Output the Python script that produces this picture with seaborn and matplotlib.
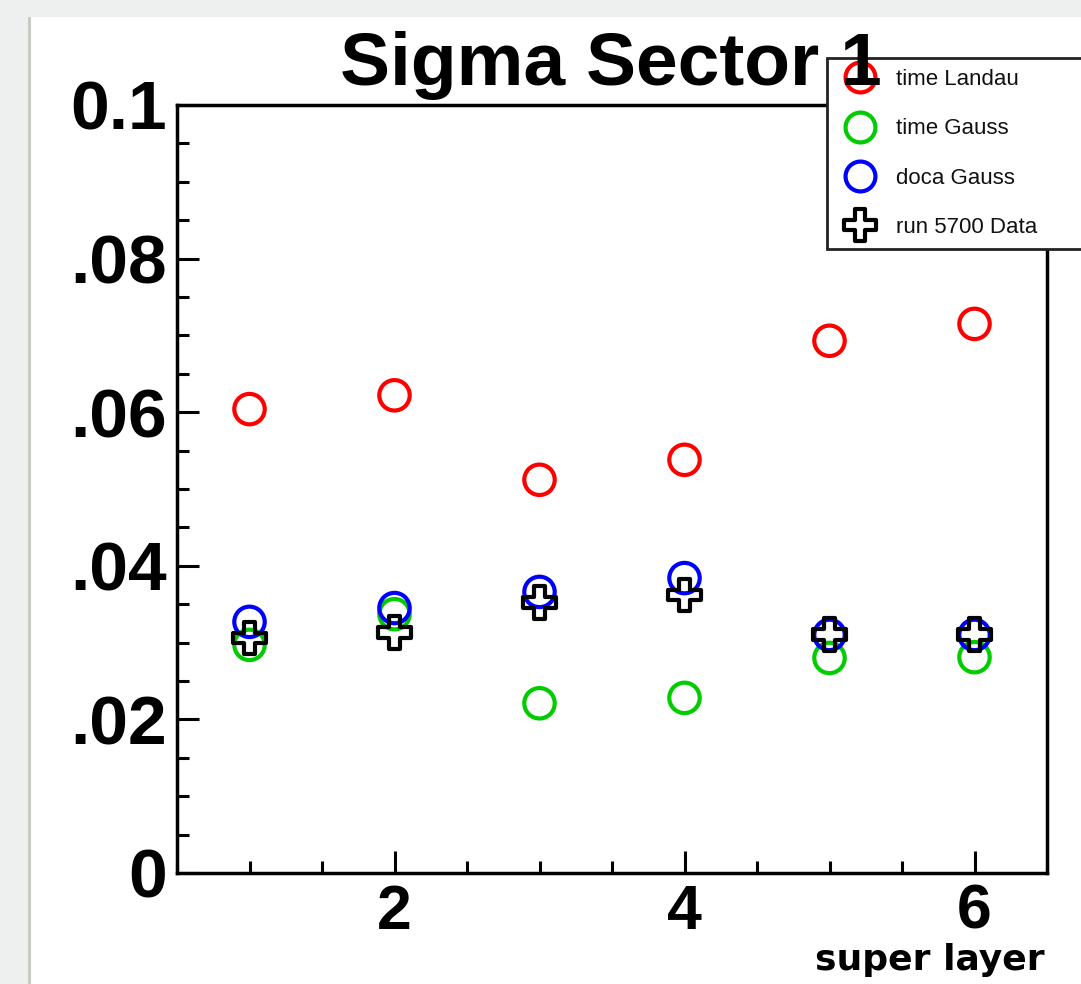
import matplotlib
matplotlib.use("Agg")
import matplotlib.pyplot as plt
import seaborn as sns
from matplotlib.path import Path
from matplotlib.lines import Line2D
from matplotlib.ticker import MultipleLocator, FixedLocator

# ---- data ----
super_layer = [1, 2, 3, 4, 5, 6]
time_landau = [0.0604, 0.0622, 0.0512, 0.0538, 0.0693, 0.0715]
time_gauss = [0.0297, 0.0337, 0.0221, 0.0228, 0.0280, 0.0281]
doca_gauss = [0.0327, 0.0345, 0.0366, 0.0384, 0.0310, 0.0310]
run_data = [0.0306, 0.0313, 0.0352, 0.0362, 0.0310, 0.0310]
series_names = ["time Landau", "time Gauss", "doca Gauss", "run 5700 Data"]
y_ticks = [0, 0.02, 0.04, 0.06, 0.08, 0.1]
y_tick_labels = ["0", ".02", ".04", ".06", ".08", "0.1"]
x_ticks = [2, 4, 6]
x_tick_labels = ["2", "4", "6"]

sns.set_theme(style="white")
plt.rcParams['font.family'] = ['Liberation Sans', 'DejaVu Sans']

W, H = 1081, 984
fig = plt.figure(figsize=(W / 100, H / 100), dpi=100)
fig.patch.set_facecolor('#eef0ef')
fig.add_artist(plt.Rectangle((31 / W, 0), 1, 1 - 17 / H, transform=fig.transFigure,
                             facecolor='white', edgecolor='none', zorder=-2))
fig.add_artist(plt.Rectangle((28 / W, 0), 3 / W, 1 - 17 / H, transform=fig.transFigure,
                             facecolor='#c9c9c6', edgecolor='none', zorder=-1))

ax = fig.add_axes([177 / W, (H - 873) / H, (1047 - 177) / W, (873 - 105) / H])
ax.set_facecolor('white')

a = 0.33
cross = Path([(-a, 1), (a, 1), (a, a), (1, a), (1, -a), (a, -a), (a, -1), (-a, -1),
              (-a, -a), (-1, -a), (-1, a), (-a, a), (-a, 1)], closed=True)

colors = ['#ff0000', '#00cc00', '#0000ff', '#000000']
values = [time_landau, time_gauss, doca_gauss, run_data]
markers = ['o', 'o', 'o', cross]
sizes = [480, 480, 480, 560]
for vals, col, mk, sz in zip(values, colors, markers, sizes):
    sns.scatterplot(x=super_layer, y=vals, marker=mk, s=sz, facecolors='none',
                    edgecolor=col, linewidth=3.0, ax=ax, zorder=3, legend=False)

ax.set_xlim(0.5, 6.5)
ax.set_ylim(0, 0.1)
ax.xaxis.set_major_locator(FixedLocator(x_ticks))
ax.set_xticklabels(x_tick_labels)
ax.xaxis.set_minor_locator(MultipleLocator(0.5))
ax.yaxis.set_major_locator(FixedLocator(y_ticks))
ax.set_yticklabels(y_tick_labels)
ax.yaxis.set_minor_locator(MultipleLocator(0.005))
ax.tick_params(which='both', direction='in', width=2.2, color='black',
               left=True, bottom=True, top=False, right=False)
ax.tick_params(which='major', length=16)
ax.tick_params(which='minor', length=8.5)
ax.tick_params(axis='y', which='major', pad=7, labelsize=50)
ax.tick_params(axis='x', which='major', pad=7, labelsize=45)
for lab in ax.get_xticklabels() + ax.get_yticklabels():
    lab.set_fontweight('bold')
    lab.set_color('black')
for sp in ax.spines.values():
    sp.set_color('black')
    sp.set_linewidth(2.5)
    sp.set_visible(True)

ax.set_xlabel("super layer", fontsize=26, fontweight='bold', family='DejaVu Sans', color='black')
ax.xaxis.label.set_ha('right')
ax.xaxis.label.set_va('baseline')
ax.xaxis.set_label_coords(1 - 2 / 870, -(970 - 873) / 768)
ax.set_ylabel("")

handles = []
for col, mk in zip(colors, markers):
    handles.append(Line2D([], [], ls='none', marker=mk, ms=21.5 if mk == 'o' else 23,
                          mfc='none', mec=col, mew=3.0))
leg = fig.legend(handles, series_names, loc='upper left',
                 bbox_to_anchor=(827 / W, 1 - 248 / H, 300 / W, (248 - 58) / H),
                 mode='expand', frameon=True, fancybox=False, framealpha=1,
                 edgecolor='#222222', facecolor='white', fontsize=16,
                 borderaxespad=0, borderpad=0.5, labelspacing=1.27,
                 handlelength=1.97, handletextpad=0.64)
leg.get_frame().set_linewidth(2)
for t in leg.get_texts():
    t.set_color('#111111')
leg.set_zorder(5)

fig.text(611 / W, 1 - 85 / H, "Sigma Sector 1", ha='center', va='baseline',
         fontsize=54, fontweight='bold', color='black', zorder=10)

fig.savefig("out.png", dpi=100, facecolor=fig.get_facecolor())
